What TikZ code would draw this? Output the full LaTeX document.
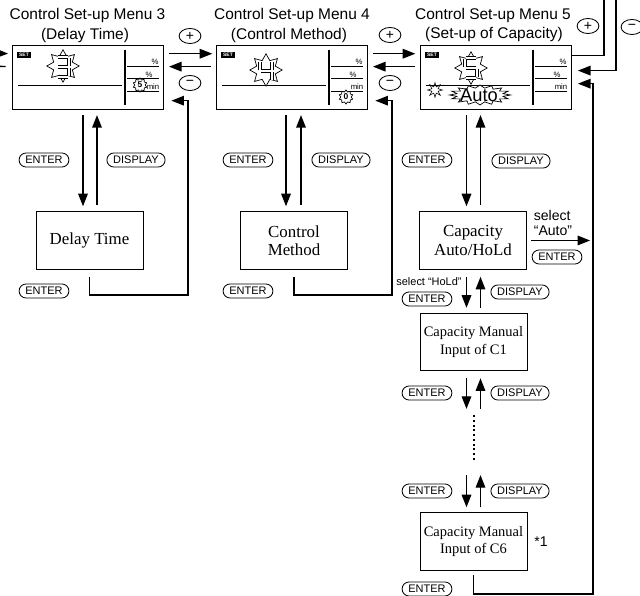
\documentclass[tikz,border=0pt]{standalone}
\usepackage{fontspec}
\setmainfont{Liberation Serif}
\setsansfont{Liberation Sans}
\usetikzlibrary{arrows.meta,shapes.geometric}

\begin{document}
\begin{tikzpicture}[x=0.025cm, y=-0.025cm, >={Triangle[length=9pt,width=6.8pt]},
    title/.style={font=\sffamily\fontsize{11}{12}\selectfont, text height=8.2pt, text depth=2.8pt, inner sep=0pt},
    lcd/.style={draw, line width=0.9pt, minimum width=107.4pt, minimum height=45.5pt, inner sep=0pt},
    seticon/.style={fill=black, text=white, font=\sffamily\bfseries\fontsize{3.5}{3.5}\selectfont, minimum width=10pt, minimum height=4.5pt, inner sep=0pt},
    unit/.style={font=\sffamily\fontsize{5.5}{5.5}\selectfont, inner sep=0pt},
    burst/.style={star, star points=8, star point ratio=1.6, draw, fill=white, line width=0.5pt, minimum size=23pt, inner sep=0pt},
    gear/.style={star, star points=10, star point ratio=1.35, draw, fill=white, line width=0.5pt, minimum size=10pt, inner sep=0pt, font=\sffamily\bfseries\fontsize{6}{6}\selectfont},
    segout/.style={line width=2.6pt},
    segin/.style={white, line width=1pt},
    box/.style={draw, line width=0.6pt, minimum width=76pt, minimum height=41pt, inner sep=0pt, align=center, font=\fontsize{12}{13}\selectfont},
    smallbox/.style={box, font=\fontsize{10.3}{12.7}\selectfont},
    key/.style={draw, line width=0.6pt, rounded corners=5pt, minimum height=10pt, inner xsep=4.5pt, inner ysep=0pt, font=\sffamily\fontsize{7.8}{8}\selectfont},
    pm/.style={draw, ellipse, line width=0.6pt, minimum width=15.5pt, minimum height=10.7pt, inner sep=0pt, font=\sffamily\fontsize{10}{10}\selectfont},
    note/.style={font=\sffamily\fontsize{10}{10}\selectfont, inner sep=0pt, align=left},
    link/.style={line width=1pt}]
  \useasboundingbox (0,0) rectangle (640,596);

  \node [title] (t3) at (87.5,15.6) {Control Set-up Menu 3};
  \node [title] (s3) at (85,35.4) {(Delay Time)};
  \node [title] (t4) at (292,15.6) {Control Set-up Menu 4};
  \node [title] (s4) at (289,35.4) {(Control Method)};
  \node [title] (t5) at (493,15.6) {Control Set-up Menu 5};
  \node [title] (s5) at (494,34.4) {(Set-up of Capacity)};

  \foreach \n/\x in {3/12,4/216,5/420}{
    \begin{scope}[shift={(\x,45)}]
      \node [lcd, anchor=north west] (lcd\n) at (0,0) {};
      \node [seticon] (set\n) at (12,10) {SET};
      \draw [line width=0.8pt] (113,5) -- (113,60);
      \draw [line width=0.6pt] (6,40) -- (110,40);
      \foreach \yy in {21,33,46} \draw [line width=0.6pt] (115,\yy) -- (147,\yy);
      \node [unit] (pa\n) at (143,17) {\%};
      \node [unit] (pb\n) at (137,29.5) {\%};
      \node [unit] (mn\n) at (141,42) {min};
    \end{scope}
  }

  \node [burst] (b3) at (63,66) {};
  \node [burst] (b4) at (266,70) {};
  \node [burst] (b5) at (471,68) {};
  \draw [segout] (58,57) -- (68,57) (69,58) -- (69,66) (58,67) -- (68,67) (69,68) -- (69,76) (58,77) -- (68,77);
  \draw [segin] (58,57) -- (68,57) (69,58) -- (69,66) (58,67) -- (68,67) (69,68) -- (69,76) (58,77) -- (68,77);
  \draw [segout] (260,62) -- (260,70) (272,62) -- (272,70) (261,71) -- (271,71) (272,72) -- (272,80);
  \draw [segin] (260,62) -- (260,70) (272,62) -- (272,70) (261,71) -- (271,71) (272,72) -- (272,80);
  \draw [segout] (466,58) -- (476,58) (465,59) -- (465,67) (466,68) -- (476,68) (477,69) -- (477,77) (466,78) -- (476,78);
  \draw [segin] (466,58) -- (476,58) (465,59) -- (465,67) (466,68) -- (476,68) (477,69) -- (477,77) (466,78) -- (476,78);
  \node [gear] (g3) at (140,85) {5};
  \node [gear] (g4) at (346,97) {0};

  \node [star, star points=8, star point ratio=2.2, draw, line width=0.4pt, minimum size=10.5pt, inner sep=0pt] (s5i) at (435,90) {};
  \draw [line width=0.5pt, fill=white] plot[variable=\t, samples=33, domain=0:360]
    ({480+(27+3.5*cos(16*\t))*cos(\t)}, {95+(8.5+1.5*cos(16*\t))*sin(\t)}) -- cycle;
  \node [font=\sffamily\fontsize{13}{13}\selectfont, inner sep=0pt] (auto5) at (479,95) {Auto};

  \node [pm] (plus3) at (190,36) {+};
  \node [pm] (minus3) at (190,83) {−};
  \node [pm] (plus4) at (390,35) {+};
  \node [pm] (minus4) at (390,83) {−};
  \node [pm] (plus5) at (588,26) {+};
  \node [pm] (minus5) at (632,27) {−};

  \node [box] (delay) at (89.5,240.5) {Delay Time};
  \node [box] (method) at (294,240.5) {Control\\Method};
  \node [box] (capauto) at (473,240.5) {Capacity\\Auto/HoLd};
  \node [smallbox] (capc1) at (473.5,342) {Capacity Manual\\Input of C1};
  \node [smallbox] (capc6) at (473.5,541.5) {Capacity Manual\\Input of C6};

  \node [key] (ent3) at (44,160) {ENTER};
  \node [key] (dsp3) at (136,160) {DISPLAY};
  \node [key] (ent3b) at (44,291) {ENTER};
  \node [key] (ent4) at (248,160) {ENTER};
  \node [key] (dsp4) at (341,160) {DISPLAY};
  \node [key] (ent4b) at (248,291) {ENTER};
  \node [key] (ent5) at (427,160) {ENTER};
  \node [key] (dsp5) at (521,161) {DISPLAY};
  \node [key] (entauto) at (557,257) {ENTER};
  \node [key] (enthold) at (427,299) {ENTER};
  \node [key] (dsp5a) at (520,292) {DISPLAY};
  \node [key] (ent5c) at (427,393) {ENTER};
  \node [key] (dsp5c) at (520,393) {DISPLAY};
  \node [key] (ent5d) at (427,491) {ENTER};
  \node [key] (dsp5d) at (520,491) {DISPLAY};
  \node [key] (ent5e) at (427,589) {ENTER};

  \node [note, font=\sffamily\fontsize{7.8}{8}\selectfont] (selhold) at (429,282) {select “HoLd”};
  \node [note] (selauto) at (553,223) {select\\“Auto”};
  \node [note] (note1) at (541,542) {*1};

  \coordinate (prev3a) at (-20,53);
  \coordinate (prev3b) at (-20,66);
  \draw [link, ->, shorten >=2.8pt] (prev3a) to ([yshift=17pt]lcd3.west);
  \draw [link, shorten <=4.6pt] ([yshift=7.8pt]lcd3.west) to (prev3b);
  \draw [link, ->, shorten <=3.5pt, shorten >=2.6pt] ([yshift=17pt]lcd3.east) to ([yshift=17pt]lcd4.west);
  \draw [link, ->, shorten <=3.5pt, shorten >=3.3pt] ([yshift=7.8pt]lcd4.west) to ([yshift=7.8pt]lcd3.east);
  \draw [link, ->, shorten <=3.3pt, shorten >=3.3pt] ([yshift=17pt]lcd4.east) to ([yshift=17pt]lcd5.west);
  \draw [link, ->, shorten <=3.3pt, shorten >=3.3pt] ([yshift=7.8pt]lcd5.west) to ([yshift=7.8pt]lcd4.east);

  \coordinate (next5a) at (604,-5);
  \coordinate (next5b) at (616,-5);
  \draw [link] ([yshift=15.6pt]lcd5.east) -| (next5a);
  \draw [link, ->, shorten >=4pt] (next5b) |- ([yshift=5pt]lcd5.east);

  \coordinate (dn3) at (83,109);
  \coordinate (up3) at (97,109);
  \coordinate (dn4) at (286,109);
  \coordinate (up4) at (301,109);
  \coordinate (dn5) at (466.5,109);
  \coordinate (up5) at (480.5,109);
  \draw [link, ->, shorten <=4.3pt, shorten >=3.5pt] (dn3) to (dn3 |- delay.north);
  \draw [link, ->, shorten <=4.3pt, shorten >=4.3pt] (up3 |- delay.north) to (up3);
  \draw [link, ->, shorten <=4.3pt, shorten >=3.5pt] (dn4) to (dn4 |- method.north);
  \draw [link, ->, shorten <=4.3pt, shorten >=4.3pt] (up4 |- method.north) to (up4);
  \draw [link, ->, shorten <=4.3pt, shorten >=3.5pt] (dn5) to (dn5 |- capauto.north);
  \draw [link, ->, shorten <=4.3pt, shorten >=4.3pt] (up5 |- capauto.north) to (up5);

  \coordinate (ret3) at (188,295);
  \coordinate (ret4) at (392,295);
  \coordinate (ret5) at (593,594);
  \draw [link, ->, shorten <=5pt, shorten >=5pt] (delay.south) |- (ret3) |- ([yshift=-16.4pt]lcd3.east);
  \draw [link, ->, shorten <=5pt, shorten >=5pt] (method.south) |- (ret4) |- ([yshift=-16.4pt]lcd4.east);
  \draw [link, ->, shorten <=3pt, shorten >=4pt] (capc6.south) |- (ret5) |- ([yshift=-4.3pt]lcd5.east);
  \draw [link, ->, shorten <=3pt, shorten >=2pt] (capauto.east) to (capauto.east -| ret5);

  \coordinate (dots1) at (474,415);
  \coordinate (dots2) at (474,461);
  \draw [link, ->, shorten <=5pt, shorten >=3.5pt] (capauto.south -| dn5) to (capc1.north -| dn5);
  \draw [link, ->, shorten <=3.5pt, shorten >=5pt] (capc1.north -| up5) to (capauto.south -| up5);
  \draw [link, ->, shorten <=5pt, shorten >=4.3pt] (capc1.south -| dn5) to (dots1 -| dn5);
  \draw [link, ->, shorten <=4.3pt, shorten >=5pt] (dots1 -| up5) to (capc1.south -| up5);
  \draw [line width=1.4pt, dotted] (dots1) to (dots2);
  \draw [link, ->, shorten <=10pt, shorten >=3.5pt] (dots2 -| dn5) to (capc6.north -| dn5);
  \draw [link, ->, shorten <=3.5pt, shorten >=10pt] (capc6.north -| up5) to (dots2 -| up5);
\end{tikzpicture}
\end{document}
